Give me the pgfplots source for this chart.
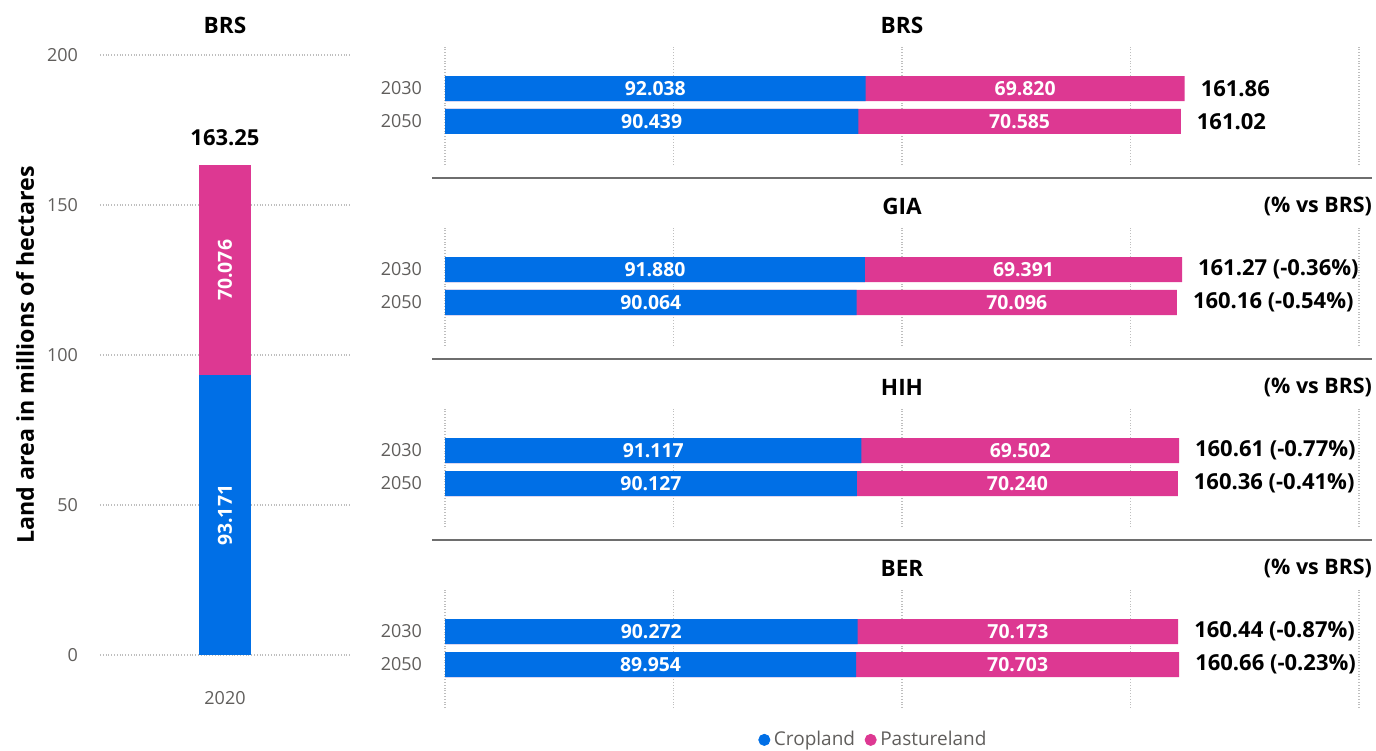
\documentclass[border=0pt]{standalone}
\usepackage{pgfplots}
\pgfplotsset{compat=1.18}
\usepackage{pgfplotstable}
\usepackage{fontspec}
\setmainfont{Open Sans}
\definecolor{cropc}{RGB}{0,111,230}
\definecolor{pastc}{RGB}{221,56,146}
\definecolor{ticktxt}{RGB}{96,94,92}
\definecolor{gridc}{RGB}{190,190,190}
\definecolor{sepc}{RGB}{110,110,110}

\pgfplotstableread{
idx crop past
0 93.171 70.076
}\tbase
% idx 1 = 2030, idx 0 = 2050
\pgfplotstableread{
idx crop past tot pct
1 92.038 69.820 161.86 0
0 90.439 70.585 161.02 0
}\tbrs
\pgfplotstableread{
idx crop past tot pct
1 91.880 69.391 161.27 -0.36
0 90.064 70.096 160.16 -0.54
}\tgia
\pgfplotstableread{
idx crop past tot pct
1 91.117 69.502 160.61 -0.77
0 90.127 70.240 160.36 -0.41
}\thih
\pgfplotstableread{
idx crop past tot pct
1 90.272 70.173 160.44 -0.87
0 89.954 70.703 160.66 -0.23
}\tber

\newcommand\lblfont{\bfseries\fontsize{9.7}{12}\selectfont}
\newcommand\totfont{\bfseries\fontsize{11}{13}\selectfont}
\newcommand\titfont{\bfseries\fontsize{11.3}{13}\selectfont}
\newcommand\tickfont{\fontsize{9}{11}\selectfont}

\pgfplotsset{
  /pgf/number format/assume math mode=true,
  panel/.style={scale only axis, width=457pt, height=59pt,
    xmin=0, xmax=200, ymin=-1.32, ymax=2.26,
    xtick={0,50,100,150,200}, xticklabels={}, xmajorgrids,
    ytick={0,1}, yticklabels={2050,2030},
    axis line style={draw=none}, major tick length=0pt,
    grid style={densely dotted, gridc, line width=0.6pt},
    tick label style={font=\tickfont, text=ticktxt},
    yticklabel style={xshift=-8pt},
    clip=false,
    title style={at={(0.5,1)}, anchor=center, yshift=5pt, font=\titfont}},
}

\newcommand\totnum{\pgfmathprintnumber[fixed, fixed zerofill, precision=2, assume math mode=true]{\tot}}

% #1 table, #2 total label
\newcommand\panelplots[2]{%
  \addplot[forget plot, xbar, bar shift=0pt, bar width=12.5pt, fill=pastc, draw=none]
    table[x expr=\thisrow{crop}+\thisrow{past}, y=idx]{#1};
  \addplot[forget plot, xbar, bar shift=0pt, bar width=12.5pt, fill=cropc, draw=none]
    table[x=crop, y=idx]{#1};
  \addplot[forget plot, draw=none, mark=none, nodes near coords, point meta=explicit symbolic,
    nodes near coords style={anchor=center, text=white, font=\lblfont}]
    table[x expr=\thisrow{crop}/2, y=idx, meta=crop]{#1};
  \addplot[forget plot, draw=none, mark=none, nodes near coords, point meta=explicit symbolic,
    nodes near coords style={anchor=center, text=white, font=\lblfont}]
    table[x expr=\thisrow{crop}+\thisrow{past}/2, y=idx, meta=past]{#1};
  \addplot[forget plot, draw=none, mark=none,
    visualization depends on={rawx \as \tot},
    nodes near coords={#2}, point meta=explicit symbolic,
    nodes near coords style={anchor=west, xshift=4.5pt, text=black, font=\totfont}]
    table[x=tot, y=idx, meta=pct]{#1};
}
\newcommand\pcthead{\node[anchor=east, xshift=10pt, yshift=11pt, font=\bfseries\fontsize{10.7}{12}\selectfont] at (axis description cs:1,1) {(\% vs BRS)};}

\begin{document}
\begin{tikzpicture}
\path[use as bounding box] (0,0) rectangle (688pt,-375pt);

% left panel
\begin{axis}[scale only axis, width=125pt, height=300pt, at={(50pt,-327.5pt)}, anchor=south west,
  xmin=-1, xmax=1, ymin=0, ymax=200, ytick={0,50,100,150,200}, xtick={0}, xticklabels={2020},
  ymajorgrids, grid style={densely dotted, gridc, line width=0.6pt},
  axis line style={draw=none}, major tick length=0pt,
  tick label style={font=\tickfont, text=ticktxt},
  yticklabel style={xshift=-7.5pt}, xticklabel style={yshift=-14.5pt},
  clip=false, title={BRS},
  title style={at={(0.5,1)}, anchor=center, yshift=9pt, font=\titfont},
  ylabel={Land area in millions of hectares},
  ylabel style={at={(axis description cs:-0.30,0.5)}, anchor=center, font=\bfseries\fontsize{11.6}{13}\selectfont}]
  \addplot[forget plot, ybar, bar shift=0pt, bar width=26pt, fill=pastc, draw=none]
    table[x=idx, y expr=\thisrow{crop}+\thisrow{past}]{\tbase};
  \addplot[forget plot, ybar, bar shift=0pt, bar width=26pt, fill=cropc, draw=none]
    table[x=idx, y=crop]{\tbase};
  \addplot[forget plot, draw=none, mark=none, nodes near coords, point meta=explicit symbolic,
    nodes near coords style={anchor=center, rotate=90, text=white, font=\lblfont}]
    table[x=idx, y expr=\thisrow{crop}/2, meta=crop]{\tbase};
  \addplot[forget plot, draw=none, mark=none, nodes near coords, point meta=explicit symbolic,
    nodes near coords style={anchor=center, rotate=90, text=white, font=\lblfont}]
    table[x=idx, y expr=\thisrow{crop}+\thisrow{past}/2, meta=past]{\tbase};
  \addplot[forget plot, draw=none, mark=none, nodes near coords={163.25}, point meta=y,
    nodes near coords style={anchor=center, yshift=14pt, text=black, font=\totfont}]
    table[x=idx, y expr=\thisrow{crop}+\thisrow{past}]{\tbase};
\end{axis}

\begin{axis}[panel, at={(222.5pt,-23.5pt)}, anchor=north west, title={BRS}]
  \panelplots{\tbrs}{\totnum}
\end{axis}
\begin{axis}[panel, at={(222.5pt,-114pt)}, anchor=north west, title={GIA}]
  \panelplots{\tgia}{\totnum\ (\pgfplotspointmeta\%)}
  \pcthead
\end{axis}
\begin{axis}[panel, at={(222.5pt,-204.5pt)}, anchor=north west, title={HIH}]
  \panelplots{\thih}{\totnum\ (\pgfplotspointmeta\%)}
  \pcthead
\end{axis}
\begin{axis}[panel, at={(222.5pt,-295pt)}, anchor=north west, title={BER},
  legend style={at={(axis description cs:0.47,-0.27)}, anchor=center, draw=none, fill=none,
    legend columns=2, font=\fontsize{9.5}{11}\selectfont, text=ticktxt,
    inner sep=0pt, /tikz/every even column/.append style={column sep=3pt}},
  legend cell align=left]
  \addlegendimage{only marks, mark=*, mark size=2.8pt, cropc, draw=cropc, fill=cropc}
  \addlegendentry{Cropland}
  \addlegendimage{only marks, mark=*, mark size=2.8pt, pastc, draw=pastc, fill=pastc}
  \addlegendentry{Pastureland}
  \panelplots{\tber}{\totnum\ (\pgfplotspointmeta\%)}
  \pcthead
\end{axis}

\draw[sepc, line width=0.9pt] (216pt,-89pt) -- (686pt,-89pt);
\draw[sepc, line width=0.9pt] (216pt,-179.5pt) -- (686pt,-179.5pt);
\draw[sepc, line width=0.9pt] (216pt,-270pt) -- (686pt,-270pt);
\end{tikzpicture}
\end{document}
